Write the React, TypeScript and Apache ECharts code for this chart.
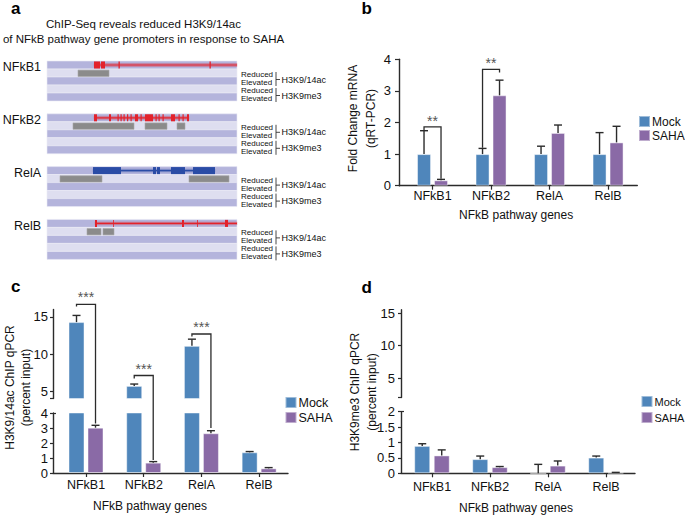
import React, { useEffect, useRef } from 'react';
import * as echarts from 'echarts';

// ---------------- data ----------------
const categories = ['NFkB1', 'NFkB2', 'RelA', 'RelB'];
const catX = [0, 1, 2, 3];

// panel b : fold change mRNA (qRT-PCR)
const bMock = [1.0, 1.0, 1.0, 1.0];
const bMockCap = [1.74, 1.18, 1.25, 1.68];
const bSaha = [0.17, 2.86, 1.67, 1.37];
const bSahaCap = [0.2, 3.34, 1.92, 1.88];
const bTicks = [0, 1, 2, 3, 4];
const bSigCat = [0, 1];
const bSigTop = [1.86, 3.68];
const bSigLeft = [1.76, 1.2];
const bSigRight = [0.22, 3.58];
const bSigText = ['**', '**'];

// panel c : H3K9/14ac ChIP qPCR
const cMock = [14.3, 5.7, 11.1, 1.38];
const cMockCap = [15.2, 5.95, 12.0, 1.43];
const cSaha = [3.02, 0.69, 2.65, 0.31];
const cSahaCap = [3.18, 0.76, 2.82, 0.36];
const cUpperTicks = [5, 10, 15];
const cLowerTicks = [0, 1, 2, 3, 4];
const cSigCat = [0, 1, 2];
const cSigTop = [16.7, 7.1, 12.7];
const cSigLeft = [16.4, 6.7, 12.35];
const cSigRight = [3.3, 0.87, 3.0];
const cSigText = ['***', '***', '***'];

// panel d : H3K9me3 ChIP qPCR
const dMock = [0.89, 0.46, 0.0, 0.51];
const dMockCap = [0.96, 0.56, 0.29, 0.56];
const dSaha = [0.58, 0.2, 0.25, 0.02];
const dSahaCap = [0.76, 0.22, 0.4, 0.03];
const dUpperTicks = [5, 10, 15];
const dLowerTicks = [0, 0.5, 1, 1.5, 2];

// panel a : ChIP-Seq tracks (window coordinates 0..190)
const trackNames = ['NFkB1', 'NFkB2', 'RelA', 'RelB'];
const rowLabels = ['Reduced', 'Elevated', 'Reduced', 'Elevated'];
const markLabels = ['H3K9/14ac', 'H3K9me3'];
const geneTrack = [0, 1, 2, 3];
const geneStart = [47, 47, 46, 48];
const geneEnd = [190, 142, 168, 190];
const exonTrack = [0, 0, 0, 0, 1, 1, 1, 1, 1, 1, 1, 1, 1, 1, 1, 1, 1, 1, 1, 1, 1, 2, 2, 2, 2, 2, 3, 3, 3, 3, 3];
const exonStart = [47, 54, 71.5, 162.5, 47, 62, 70.5, 73.5, 76.5, 80, 83.5, 88, 93.5, 98, 108.5, 111.5, 115.5, 124, 131.5, 135.5, 140, 46, 106, 110, 124, 146, 48, 66, 135, 150, 178];
const exonEnd = [53, 58, 72.8, 163.8, 50, 64, 71.7, 74.7, 77.7, 81.2, 84.7, 91, 94.7, 106, 109.7, 112.7, 116.7, 128, 132.7, 136.7, 142, 74, 109, 113, 138, 168, 50, 66.8, 137, 150.8, 181];
const peakTrack = [0, 1, 1, 1, 2, 2, 3, 3];
const peakStart = [31, 26, 98, 130, 13, 142, 40, 56];
const peakEnd = [62, 87, 120, 138, 55, 182, 54, 67];

// ---------------- styles / layout ----------------
const FONT = '"Liberation Sans", Arial, Helvetica, sans-serif';
const MOCK = '#4f86bb';
const SAHA = '#8a6aa6';
const AXIS = '#2b2b2b';
const TXT = '#111';
const GENE_COLORS = ['#e3222b', '#e3222b', '#2a4ca6', '#e3222b'];
const ROW_DARK = '#b4b4dc';
const ROW_LIGHT = '#dedef0';
const A_X0 = 0;
const A_X1 = 190;
const TRACK_PITCH = 6.6;
const A_Y_MAX = 3 * TRACK_PITCH + 5;
const X_MAX = 3.5;

const G_A = { left: 47, top: 61, width: 190, height: A_Y_MAX * 8 };
const G_B = { left: 399, top: 59.3, width: 238.3, height: 126.4 };
const G_CU = { left: 53, top: 309.5, width: 235, height: 89 };
const G_CL = { left: 53, top: 413, width: 235, height: 60 };
const G_DU = { left: 401, top: 309.75, width: 234, height: 87.75 };
const G_DL = { left: 401, top: 411.7, width: 234, height: 61.6 };
const C_GAP = G_CL.top - (G_CU.top + G_CU.height);

function catAxis(gridIndex: number, min: number, show: boolean, margin = 4, name = '', nameGap = 0, pad = [0, 0, 0, 0]) {
  return {
    gridIndex, type: 'value', min, max: X_MAX, show,
    name, nameLocation: 'middle', nameGap,
    nameTextStyle: { fontSize: 12, fontFamily: FONT, color: TXT, padding: pad },
    axisLine: { show: true, onZero: false, lineStyle: { color: AXIS, width: 1.4 } },
    axisTick: { show: true, length: 4, customValues: catX, lineStyle: { color: AXIS, width: 1.2 } },
    axisLabel: {
      show: true, margin, customValues: catX,
      formatter: (v: number) => categories[Math.round(v)] ?? '',
      fontSize: 12.5, fontFamily: FONT, color: TXT,
    },
    splitLine: { show: false },
  };
}

function valAxis(gridIndex: number, min: number, max: number, ticks: number[], labels: number[], margin: number, tickLen: number) {
  return {
    gridIndex, type: 'value', min, max, position: 'left',
    axisLine: { show: true, onZero: false, lineStyle: { color: AXIS, width: 1.4 } },
    axisTick: { show: true, length: tickLen, customValues: ticks, lineStyle: { color: AXIS, width: 1.2 } },
    axisLabel: { show: true, margin, customValues: labels, fontSize: 13, fontFamily: FONT, color: TXT },
    splitLine: { show: false },
  };
}

function capAxis(gridIndex: number, min: number, max: number) {
  return {
    gridIndex, type: 'value', min, max, position: 'left', offset: 0,
    axisLine: { show: false, onZero: false },
    axisTick: { show: true, inside: true, length: 3, customValues: [max], lineStyle: { color: AXIS, width: 1.2 } },
    axisLabel: { show: false },
    splitLine: { show: false },
  };
}

function barSeries(name: string, gi: number, vals: number[], color: string, width: number, gap: string) {
  return {
    type: 'bar', name, xAxisIndex: gi, yAxisIndex: gi,
    data: catX.map((x, i) => [x, vals[i]]),
    barWidth: width, barGap: gap, clip: true, silent: true, z: 2,
    itemStyle: { color, borderColor: 'rgba(255,255,255,0.45)', borderWidth: 1 },
    emphasis: { disabled: true },
  };
}

function errorSeries(gi: number, vals: number[], caps: number[], offset: number, lo: number, hi: number) {
  return {
    type: 'custom', xAxisIndex: gi, yAxisIndex: gi, silent: true, z: 3,
    data: catX.map((x, i) => [x, vals[i], caps[i]]),
    renderItem: (_p: any, api: any) => {
      const x = api.value(0), v = api.value(1), cap = api.value(2);
      if (cap <= lo || v >= hi) return null;
      const p0 = api.coord([x, Math.max(v, lo)]);
      const p1 = api.coord([x, Math.min(cap, hi)]);
      const cx = p0[0] + offset;
      const children: any[] = [
        { type: 'line', shape: { x1: cx, y1: p0[1], x2: cx, y2: p1[1] }, style: { stroke: AXIS, lineWidth: 1.4 } },
      ];
      if (cap <= hi) {
        children.push({ type: 'line', shape: { x1: cx - 4, y1: p1[1], x2: cx + 4, y2: p1[1] }, style: { stroke: AXIS, lineWidth: 1.4 } });
      }
      return { type: 'group', children };
    },
  };
}

function bracketSeries(gi: number, cats: number[], tops: number[], lefts: number[], rights: number[], texts: string[],
  offL: number, offR: number, lo: number, extend: number, textGap: number) {
  return {
    type: 'custom', xAxisIndex: gi, yAxisIndex: gi, silent: true, z: 4,
    data: cats.map((c, i) => [c, tops[i], lefts[i], rights[i], i]),
    renderItem: (_p: any, api: any) => {
      const c = api.value(0), top = api.value(1), left = api.value(2), right = api.value(3), idx = api.value(4);
      const pt = api.coord([c, top]);
      const pl = api.coord([c, left]);
      const yr = right >= lo ? api.coord([c, right])[1] : api.coord([c, lo])[1] + extend;
      const xl = pt[0] + offL, xr = pt[0] + offR;
      return {
        type: 'group', children: [
          { type: 'polyline', shape: { points: [[xl, pl[1]], [xl, pt[1]], [xr, pt[1]], [xr, yr]] }, style: { stroke: AXIS, fill: 'none', lineWidth: 1.3 } },
          { type: 'text', x: (xl + xr) / 2, y: pt[1] - textGap, style: { text: texts[idx], fill: '#555', fontSize: 14, fontFamily: FONT, align: 'center', verticalAlign: 'middle' } },
        ],
      };
    },
  };
}

function bracketLowerSeries(gi: number, cats: number[], rights: number[], offR: number, hi: number) {
  return {
    type: 'custom', xAxisIndex: gi, yAxisIndex: gi, silent: true, z: 4,
    data: cats.map((c, i) => [c, rights[i]]),
    renderItem: (_p: any, api: any) => {
      const c = api.value(0), right = api.value(1);
      if (right >= hi) return null;
      const p = api.coord([c, right]);
      const q = api.coord([c, hi]);
      const xr = p[0] + offR;
      return { type: 'line', shape: { x1: xr, y1: p[1], x2: xr, y2: q[1] }, style: { stroke: AXIS, lineWidth: 1.3 } };
    },
  };
}

function rectBetween(api: any, x0: number, y0: number, x1: number, y1: number) {
  const p0 = api.coord([x0, y0]);
  const p1 = api.coord([x1, y1]);
  return { x: Math.min(p0[0], p1[0]), y: Math.min(p0[1], p1[1]), width: Math.abs(p1[0] - p0[0]), height: Math.abs(p1[1] - p0[1]) };
}

function txt(text: string, x: number, y: number, fontSize: number, align: string, extra: any = {}) {
  return { type: 'text', x, y, style: { text, fill: TXT, fontSize, fontFamily: FONT, align, verticalAlign: 'middle', ...extra } };
}

function panelASeries() {
  const rowData: number[][] = [];
  trackNames.forEach((_n, k) => [0, 1, 2, 3, 4].forEach((r) => rowData.push([k, r])));
  const base = { type: 'custom', xAxisIndex: 0, yAxisIndex: 0, silent: true };
  return [
    {
      ...base, z: 1, data: rowData,
      renderItem: (_p: any, api: any) => {
        const k = api.value(0), r = api.value(1);
        const y0 = k * TRACK_PITCH + r;
        return { type: 'rect', shape: rectBetween(api, A_X0, y0, A_X1, y0 + 1), style: { fill: r % 2 === 0 ? ROW_DARK : ROW_LIGHT, stroke: '#ebebf5', lineWidth: 0.6 } };
      },
    },
    {
      ...base, z: 2, data: peakTrack.map((k, i) => [k, peakStart[i], peakEnd[i]]),
      renderItem: (_p: any, api: any) => {
        const k = api.value(0);
        const y0 = k * TRACK_PITCH + 1;
        return { type: 'rect', shape: rectBetween(api, api.value(1), y0 + 0.14, api.value(2), y0 + 0.94), style: { fill: '#8b8b8b', stroke: '#a8a8a8', lineWidth: 0.6 } };
      },
    },
    {
      ...base, z: 2, data: geneTrack.map((k, i) => [k, geneStart[i], geneEnd[i]]),
      renderItem: (_p: any, api: any) => {
        const k = api.value(0);
        const yc = k * TRACK_PITCH + 0.5;
        const col = GENE_COLORS[k];
        const band = rectBetween(api, api.value(1), yc - 0.19, api.value(2), yc + 0.19);
        const a = api.coord([api.value(1), yc]);
        const b = api.coord([api.value(2), yc]);
        return {
          type: 'group', children: [
            { type: 'rect', shape: band, style: { fill: col, opacity: 0.3, stroke: col, lineWidth: 0.6 } },
            { type: 'line', shape: { x1: a[0], y1: a[1], x2: b[0], y2: b[1] }, style: { stroke: col, lineWidth: 1.2 } },
          ],
        };
      },
    },
    {
      ...base, z: 3, data: exonTrack.map((k, i) => [k, exonStart[i], exonEnd[i]]),
      renderItem: (_p: any, api: any) => {
        const k = api.value(0);
        const y0 = k * TRACK_PITCH;
        return { type: 'rect', shape: rectBetween(api, api.value(1), y0 + 0.06, api.value(2), y0 + 0.94), style: { fill: GENE_COLORS[k] } };
      },
    },
    {
      ...base, z: 5, data: trackNames.map((_n, k) => [k, 0]),
      renderItem: (_p: any, api: any) => {
        const k = api.value(0);
        const b0 = k * TRACK_PITCH;
        const leftPt = api.coord([A_X0, b0 + 0.5]);
        const rightX = api.coord([A_X1, b0])[0];
        const children: any[] = [txt(trackNames[k], leftPt[0] - 6, leftPt[1] + 2.4, 12.5, 'right')];
        rowLabels.forEach((lab, j) => {
          const yc = api.coord([A_X1, b0 + 1 + j + 0.5])[1];
          children.push(txt(lab, rightX + 4, yc + 1.5, 8, 'left'));
        });
        markLabels.forEach((lab, m) => {
          const y1 = api.coord([A_X1, b0 + 1 + 2 * m + 0.5])[1];
          const y2 = api.coord([A_X1, b0 + 2 + 2 * m + 0.5])[1];
          const bx = rightX + 39;
          const mid = (y1 + y2) / 2 + 2.5;
          children.push({ type: 'line', shape: { x1: bx, y1: y1 - 1, x2: bx, y2: y2 + 5 }, style: { stroke: '#333', lineWidth: 0.9 } });
          children.push({ type: 'line', shape: { x1: bx, y1: mid, x2: bx + 4, y2: mid }, style: { stroke: '#333', lineWidth: 0.9 } });
          children.push(txt(lab, bx + 5.5, mid, 9, 'left'));
        });
        return { type: 'group', children };
      },
    },
  ];
}

function legendAt(left: number, top: number, gap: number, size: number) {
  return {
    data: ['Mock', 'SAHA'], left, top, orient: 'vertical', icon: 'rect', padding: 0,
    itemWidth: 11, itemHeight: 11, itemGap: gap, selectedMode: false,
    textStyle: { fontSize: size, lineHeight: 14, fontFamily: FONT, color: TXT, padding: [0, 0, 0, -3] },
  };
}

function buildOption() {
  const B_OFF = 8.5, C_OFF = 9.5, D_OFF = 9.75;
  const series: any[] = [
    ...panelASeries(),
    // b
    barSeries('Mock', 1, bMock, MOCK, 14, '21.4%'),
    barSeries('SAHA', 1, bSaha, SAHA, 14, '21.4%'),
    errorSeries(1, bMock, bMockCap, -B_OFF, 0, 4),
    errorSeries(1, bSaha, bSahaCap, B_OFF, 0, 4),
    bracketSeries(1, bSigCat, bSigTop, bSigLeft, bSigRight, bSigText, -B_OFF, B_OFF, 0, 0, 6),
    // c upper / lower
    barSeries('Mock', 2, cMock, MOCK, 16, '18.75%'),
    barSeries('SAHA', 2, cSaha, SAHA, 16, '18.75%'),
    barSeries('Mock', 3, cMock, MOCK, 16, '18.75%'),
    barSeries('SAHA', 3, cSaha, SAHA, 16, '18.75%'),
    errorSeries(2, cMock, cMockCap, -C_OFF, 4, 16),
    errorSeries(2, cSaha, cSahaCap, C_OFF, 4, 16),
    errorSeries(3, cMock, cMockCap, -C_OFF, 0, 4),
    errorSeries(3, cSaha, cSahaCap, C_OFF, 0, 4),
    bracketSeries(2, cSigCat, cSigTop, cSigLeft, cSigRight, cSigText, -C_OFF, C_OFF, 4, C_GAP, 7),
    bracketLowerSeries(3, cSigCat, cSigRight, C_OFF, 4),
    // d upper / lower
    barSeries('Mock', 4, dMock, MOCK, 16, '21.9%'),
    barSeries('SAHA', 4, dSaha, SAHA, 16, '21.9%'),
    barSeries('Mock', 5, dMock, MOCK, 16, '21.9%'),
    barSeries('SAHA', 5, dSaha, SAHA, 16, '21.9%'),
    errorSeries(4, dMock, dMockCap, -D_OFF, 2, 15.5),
    errorSeries(4, dSaha, dSahaCap, D_OFF, 2, 15.5),
    errorSeries(5, dMock, dMockCap, -D_OFF, 0, 2),
    errorSeries(5, dSaha, dSahaCap, D_OFF, 0, 2),
  ];

  const letter = (t: string, x: number, y: number) => ({
    type: 'text', x, y, silent: true,
    style: { text: t, fill: '#000', fontSize: 17, fontWeight: 'bold', fontFamily: FONT, align: 'left', verticalAlign: 'middle' },
  });
  const plain = (t: string, x: number, y: number, size: number, rot = 0) => ({
    type: 'text', x, y, rotation: rot, silent: true,
    style: { text: t, fill: TXT, fontSize: size, fontFamily: FONT, align: 'center', verticalAlign: 'middle' },
  });
  const R = Math.PI / 2;

  return {
    animation: false,
    backgroundColor: '#fff',
    textStyle: { fontFamily: FONT },
    grid: [G_A, G_B, G_CU, G_CL, G_DU, G_DL],
    xAxis: [
      { gridIndex: 0, type: 'value', min: A_X0, max: A_X1, show: false },
      catAxis(1, -0.573, true, 4, 'NFkB pathway genes', 23.3, [0, 4, 0, 0]),
      catAxis(2, -0.572, false),
      catAxis(3, -0.572, true, 5.5, 'NFkB pathway genes', 27, [0, 41, 0, 0]),
      catAxis(4, -0.534, false),
      catAxis(5, -0.534, true, 7, 'NFkB pathway genes', 28.3, [0, 4, 0, 0]),
    ],
    yAxis: [
      { gridIndex: 0, type: 'value', min: 0, max: A_Y_MAX, inverse: true, show: false },
      valAxis(1, 0, 4, bTicks, bTicks, 8, 4),
      valAxis(2, 4, 16, [4, ...cUpperTicks], cUpperTicks, 5, 3),
      valAxis(3, 0, 4, cLowerTicks, cLowerTicks, 5, 3),
      valAxis(4, 2, 15.5, [2, ...dUpperTicks], dUpperTicks, 6, 3),
      valAxis(5, 0, 2, dLowerTicks, dLowerTicks, 6, 3),
      capAxis(3, 0, 4),
      capAxis(5, 0, 2),
    ],
    legend: [legendAt(638, 114.5, 0, 12), legendAt(284.5, 395.5, 1, 12.5), legendAt(640.5, 394.5, 2, 11)],
    graphic: [
      letter('a', 11, 8.5),
      letter('b', 361.5, 8.5),
      letter('c', 11, 286),
      letter('d', 361.5, 287),
      plain('ChIP-Seq reveals reduced H3K9/14ac', 143.5, 24, 11.5),
      plain('of NFkB pathway gene promoters in response to SAHA', 143.5, 39, 11.5),
      plain('Fold Change mRNA', 353, 118.5, 12, R),
      plain('(qRT-PCR)', 370.5, 118.5, 12, R),
      plain('H3K9/14ac ChIP qPCR', 9.5, 387.5, 12, R),
      plain('(percent input)', 25.5, 387.5, 12, R),
      plain('H3K9me3 ChIP qPCR', 355, 392, 12, R),
      plain('(percent input)', 372, 392, 12, R),
    ],
    series,
  };
}

export default function App() {
  const ref = useRef<HTMLDivElement>(null);
  useEffect(() => {
    document.body.style.margin = '0';
    const chart = echarts.init(ref.current!, null, { renderer: 'svg', width: 685, height: 515 });
    chart.setOption(buildOption() as any);
    return () => chart.dispose();
  }, []);
  return <div ref={ref} style={{ position: 'absolute', left: 0, top: 0, width: 685, height: 515, background: '#fff' }} />;
}
